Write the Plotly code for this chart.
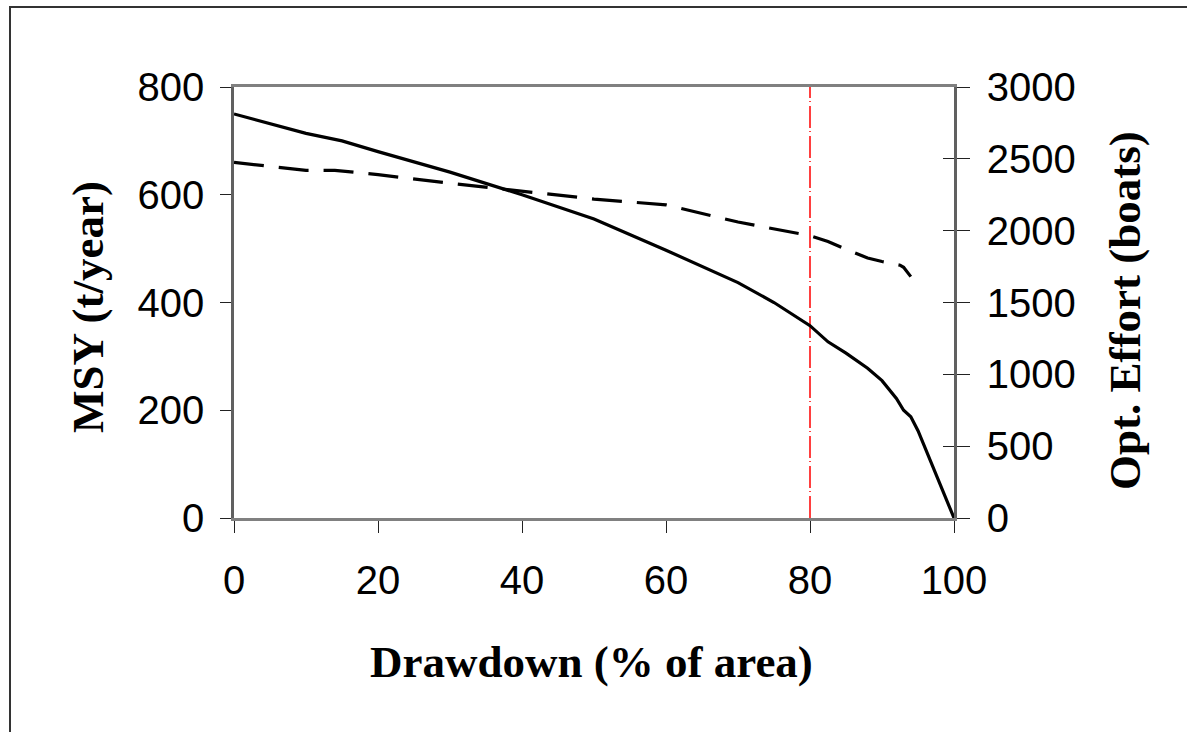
import plotly.graph_objects as go

# Data
drawdown_msy = [0, 10, 15, 20, 30, 40, 50, 60, 70, 75, 80, 82.5, 85, 88, 90, 92, 93, 94, 95, 100]
msy = [750, 714, 700, 680, 642, 600, 555, 497, 437, 400, 357, 327, 306, 278, 255, 222, 200, 188, 162, 0]

drawdown_eff = [0, 10, 14, 20, 30, 40, 50, 60, 70, 80, 82.5, 85, 88, 90, 92.5, 93, 93.5, 94]
effort = [2475, 2420, 2420, 2390, 2330, 2275, 2220, 2180, 2060, 1965, 1925, 1870, 1810, 1785, 1760, 1745, 1710, 1680]

threshold_x = [80, 80]
threshold_y = [0, 800]

x_ticks = [0, 20, 40, 60, 80, 100]
y_ticks = [0, 200, 400, 600, 800]
y2_ticks = [0, 500, 1000, 1500, 2000, 2500, 3000]

W, H = 1187, 732
L, R, T, B = 234, 954, 87, 518
pw, ph = R - L, B - T

def px(xp):
    return (xp - L) / pw

def py(yp):
    return (B - yp) / ph

tick_font = dict(family="Liberation Sans, Arial, sans-serif", size=40, color="black")
title_font = dict(family="Liberation Serif, Times New Roman, serif", size=45, color="black")

fig = go.Figure()

fig.add_trace(go.Scatter(x=threshold_x, y=threshold_y, mode="lines",
                         line=dict(color="red", width=1.5, dash="22px,4px,1px,3px"),
                         showlegend=False, hoverinfo="skip", yaxis="y"))
fig.add_trace(go.Scatter(x=drawdown_msy, y=msy, mode="lines",
                         line=dict(color="black", width=3.2),
                         name="MSY", showlegend=False, yaxis="y"))
fig.add_trace(go.Scatter(x=drawdown_eff, y=effort, mode="lines",
                         line=dict(color="black", width=3.2, dash="30px,15px"),
                         name="Opt. Effort", showlegend=False, yaxis="y2"))

fig.update_layout(
    width=W, height=H,
    margin=dict(l=L, r=W - R, t=T, b=H - B, pad=0),
    paper_bgcolor="white", plot_bgcolor="white",
    showlegend=False,
    xaxis=dict(range=[0, 100], tickvals=x_ticks, ticks="outside", ticklen=12,
               tickcolor="#222", tickwidth=1, showgrid=False, zeroline=False,
               showline=True, linecolor="#808080", linewidth=2.5, mirror=True,
               tickfont=tick_font, ticklabelstandoff=13),
    yaxis=dict(range=[0, 800], tickvals=y_ticks, ticks="outside", ticklen=11,
               tickcolor="#222", tickwidth=1, showgrid=False, zeroline=False,
               showline=True, linecolor="#606060", linewidth=2.5,
               tickfont=tick_font, ticklabelstandoff=8),
    yaxis2=dict(range=[0, 3000], tickvals=y2_ticks, ticks="outside", ticklen=13,
                tickcolor="#222", tickwidth=1, showgrid=False, zeroline=False,
                showline=True, linecolor="#606060", linewidth=2.5,
                overlaying="y", side="right", anchor="x",
                tickfont=tick_font, ticklabelstandoff=9),
    yaxis3=dict(range=[0, 3000], tickvals=y2_ticks, ticks="inside", ticklen=11,
                tickcolor="#222", tickwidth=1, showgrid=False, zeroline=False,
                showline=False, showticklabels=False,
                overlaying="y", side="right", anchor="x"),
    annotations=[
        dict(text="<b>Drawdown (% of area)</b>", xref="paper", yref="paper",
             x=px(591), y=py(662), showarrow=False, font=title_font,
             xanchor="center", yanchor="middle"),
        dict(text="<b>MSY (t/year)</b>", xref="paper", yref="paper",
             x=px(88), y=py(307), showarrow=False, font=title_font, textangle=-90,
             xanchor="center", yanchor="middle"),
        dict(text="<b>Opt. Effort (boats)</b>", xref="paper", yref="paper",
             x=px(1125), y=py(311), showarrow=False, font=title_font, textangle=-90,
             xanchor="center", yanchor="middle"),
    ],
    shapes=[
        dict(type="rect", xref="paper", yref="paper",
             x0=px(10), x1=px(1200), y0=py(750), y1=py(7),
             line=dict(color="#333333", width=2), fillcolor="rgba(0,0,0,0)", layer="below"),
    ],
)

# dummy trace to activate yaxis3 (inside tick marks of right axis)
fig.add_trace(go.Scatter(x=[None], y=[None], yaxis="y3", showlegend=False, hoverinfo="skip"))

fig.write_html("out.html")
